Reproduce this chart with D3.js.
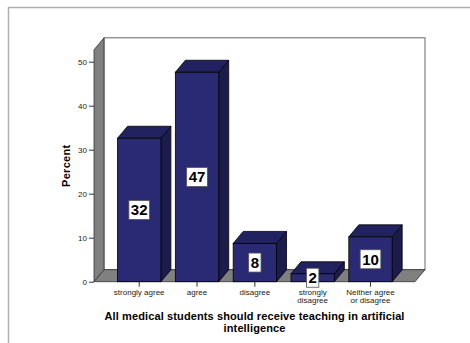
<!DOCTYPE html>
<html><head><meta charset="utf-8">
<script src="https://cdn.jsdelivr.net/npm/d3@7/dist/d3.min.js"></script>
<style>body{margin:0;background:#fff}svg{display:block}text{font-family:Arial,"Liberation Sans",sans-serif}</style>
</head><body><svg id="c" width="470" height="343"></svg>
<script>
const categories = [["strongly agree"],["agree"],["disagree"],["strongly","disagree"],["Neither agree","or disagree"]];
const values = [32.6, 47.6, 8.7, 1.8, 10.2];
const valueLabels = ["32","47","8","2","10"];
const yTicks = [0,10,20,30,40,50];
const yTitle = "Percent";
const xTitle = ["All medical students should receive teaching in artificial","intelligence"];

const svg = d3.select("#c");
const dx = 10, dy = 12;
const x0 = 94, x1 = 415;
const y = d3.scaleLinear().domain([0,50]).range([281.7,61.7]);
const yTop = y(52.7), yBot = y(0);
const x = d3.scaleBand().domain(d3.range(categories.length)).range([110.3,399.4]).paddingInner(0.25).paddingOuter(0.125);

// outer frame
svg.append("path").attr("d","M8.5,343 V7.5 H470").attr("fill","none").attr("stroke","#b0b0b0").attr("stroke-width",1.5);

// back wall
svg.append("rect").attr("x",x0+dx).attr("y",yTop-dy).attr("width",x1-x0).attr("height",yBot-yTop)
  .attr("fill","#fff").attr("stroke","#666").attr("stroke-width",1);
// left wall
svg.append("polygon").attr("points",[[x0,yTop],[x0+dx,yTop-dy],[x0+dx,yBot-dy],[x0,yBot]].join(" "))
  .attr("fill","#808080").attr("stroke","#333").attr("stroke-width",0.8);
// floor
svg.append("polygon").attr("points",[[x0,yBot],[x0+dx,yBot-dy],[x1+dx,yBot-dy],[x1,yBot]].join(" "))
  .attr("fill","#808080").attr("stroke","#333").attr("stroke-width",0.8);

// y axis
const ya = svg.append("g").attr("transform",`translate(${x0},0)`)
  .call(d3.axisLeft(y).tickValues(yTicks).tickSize(5).tickPadding(2));
ya.select(".domain").remove();
ya.selectAll("line").attr("stroke","#333");
ya.selectAll("text").attr("font-size",8).attr("fill","#222");

// x axis ticks and labels
categories.forEach((c,i)=>{
  const cx = x(i)+x.bandwidth()/2;
  svg.append("line").attr("x1",cx).attr("x2",cx).attr("y1",yBot).attr("y2",yBot+5).attr("stroke","#333");
  const t = svg.append("text").attr("x",cx).attr("y",yBot+12.8).attr("text-anchor","middle").attr("font-size",8).attr("fill","#222");
  c.forEach((l,j)=>t.append("tspan").attr("x",cx).attr("dy",j?8.3:0).text(l));
});

// bars
const g = svg.append("g");
values.forEach((v,i)=>{
  const bx = x(i), bw = x.bandwidth(), by = y(v);
  g.append("polygon").attr("points",[[bx+bw,by],[bx+bw+dx,by-dy],[bx+bw+dx,yBot-dy],[bx+bw,yBot]].join(" "))
    .attr("fill","#1c1c4c").attr("stroke","#000").attr("stroke-width",0.8);
  g.append("polygon").attr("points",[[bx,by],[bx+dx,by-dy],[bx+bw+dx,by-dy],[bx+bw,by]].join(" "))
    .attr("fill","#222260").attr("stroke","#000").attr("stroke-width",0.8);
  g.append("rect").attr("x",bx).attr("y",by).attr("width",bw).attr("height",yBot-by)
    .attr("fill","#2a2a74").attr("stroke","#000").attr("stroke-width",0.8);
});
// value labels
values.forEach((v,i)=>{
  const cx = x(i)+x.bandwidth()/2, cy = (y(v)+yBot)/2;
  const t = svg.append("text").attr("x",cx).attr("y",cy+5.5).attr("text-anchor","middle")
    .attr("font-size",15).attr("font-weight","bold").attr("fill","#000").text(valueLabels[i]);
  const w = t.node().getComputedTextLength()+4;
  svg.insert("rect", () => t.node()).attr("x",cx-w/2).attr("y",cy-9.5).attr("width",w).attr("height",19)
    .attr("fill","#fff").attr("stroke","#555").attr("stroke-width",0.8);
});

// axis titles
svg.append("text").attr("transform",`translate(70,${(yTop+yBot)/2}) rotate(-90)`).attr("text-anchor","middle")
  .attr("font-size",11).attr("font-weight","bold").attr("fill","#000").attr("letter-spacing",0.3).text(yTitle);
const cxT = (x0+x1)/2;
const titleLines = xTitle.map((l,j)=>svg.append("text").attr("x",cxT).attr("y",320+j*12).attr("text-anchor","middle")
  .attr("font-size",11).attr("font-weight","bold").attr("fill","#000").text(l));
const ls = (300 - titleLines[0].node().getComputedTextLength())/xTitle[0].length;
titleLines.forEach(t=>t.attr("letter-spacing",ls).attr("x",cxT+ls/2));
</script></body></html>
